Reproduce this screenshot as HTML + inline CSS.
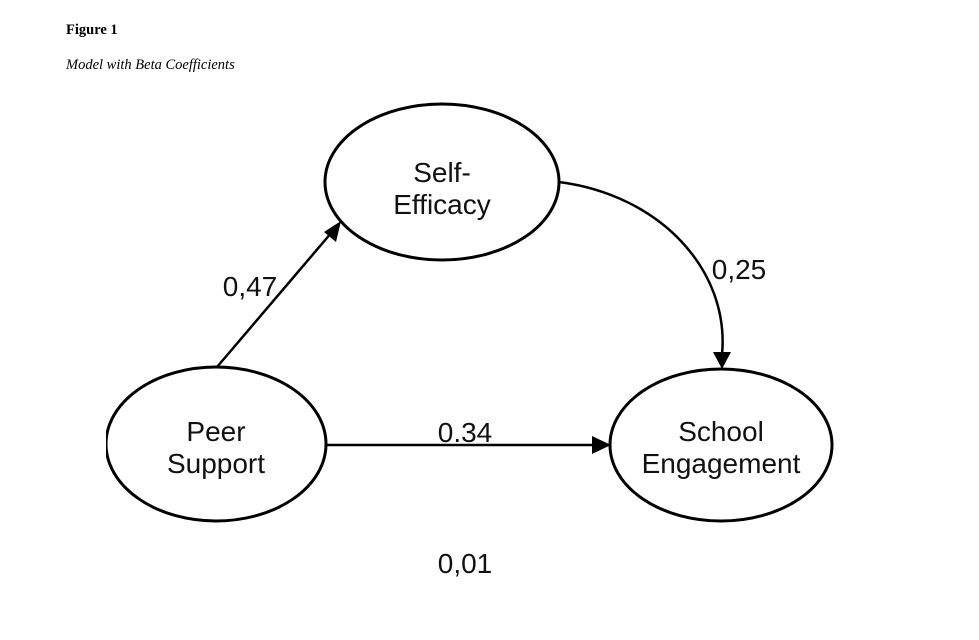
<!DOCTYPE html>
<html><head><style>
body{margin:0;background:#fff;width:979px;height:635px;overflow:hidden}
</style></head><body>
<svg width="979" height="635" xmlns="http://www.w3.org/2000/svg">
<text x="66" y="34" font-family="Liberation Serif" font-weight="bold" font-size="14.5">Figure 1</text>
<text x="66" y="69" font-family="Liberation Serif" font-style="italic" font-size="14.5">Model with Beta Coefficients</text>
<defs><clipPath id="c"><rect x="106" y="0" width="900" height="635"/></clipPath></defs>
<g fill="#fff" stroke="#000" stroke-width="3">
<ellipse cx="216" cy="444" rx="110" ry="77" clip-path="url(#c)"/>
<ellipse cx="442" cy="182" rx="117" ry="78"/>
<ellipse cx="721" cy="445" rx="111" ry="76"/>
</g>
<g stroke="#000" stroke-width="2.5" fill="none">
<line x1="217" y1="367" x2="332" y2="232"/>
<line x1="326" y1="445" x2="596" y2="445"/>
<path d="M559 182 C 660 195, 730 270, 722 355"/>
</g>
<g fill="#000">
<polygon points="341,221 336,242 324,232"/>
<polygon points="611,445 592,436 592,454"/>
<polygon points="722,369 713,352 731,352"/>
</g>
<g font-family="Liberation Sans" font-size="28" text-anchor="middle" fill="#111">
<text x="442" y="182">Self-</text><text x="442" y="214">Efficacy</text>
<text x="216" y="441">Peer</text><text x="216" y="473">Support</text>
<text x="721" y="441">School</text><text x="721" y="473">Engagement</text>
<text x="250" y="296">0,47</text>
<text x="739" y="279">0,25</text>
<text x="465" y="442">0.34</text>
<text x="465" y="573">0,01</text>
</g>
</svg>
</body></html>
